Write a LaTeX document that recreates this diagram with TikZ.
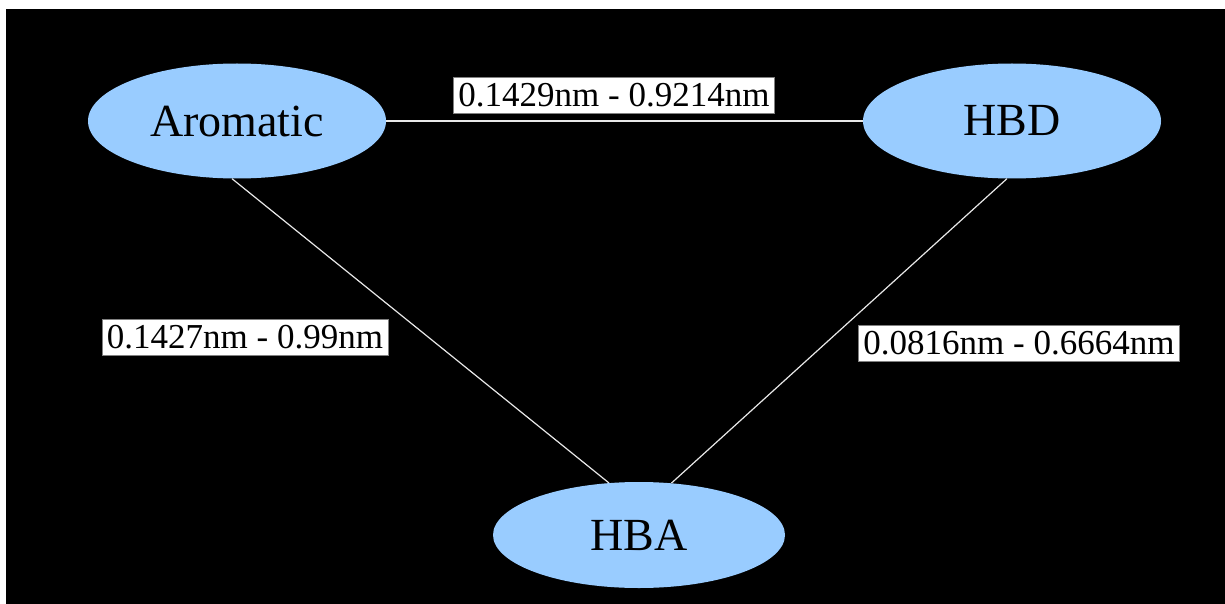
\documentclass[tikz,border=0pt]{standalone}
\usepackage{fontspec}
\setmainfont{Liberation Serif}
\usetikzlibrary{shapes.geometric}
\definecolor{nodeblue}{HTML}{99CCFF}
\definecolor{edgegray}{HTML}{E8E8E8}
\tikzset{
  blob/.style={ellipse, fill=nodeblue, draw=none, inner sep=0pt,
    minimum width=298pt, minimum height=115pt,
    font=\fontsize{46}{50}\selectfont, text=black},
  link/.style={draw=edgegray, line width=1.2pt},
  lbl/.style={fill=white, draw=gray, line width=0.8pt, inner xsep=5pt, inner ysep=0pt,
    minimum height=36pt, font=\fontsize{35}{38}\selectfont, text=black}
}
\begin{document}
\begin{tikzpicture}[x=1pt,y=-1pt]
\useasboundingbox (0,0) rectangle (1225,604);
\fill[black] (-2,-2) rectangle (1227,606);
\fill[white] (-2,-2) rectangle (1227,9);
\fill[white] (-2,-2) rectangle (6,606);
\node[blob] (arom) at (237,121) {Aromatic};
\node[blob] (hbd) at (1012,121) {HBD};
\node[blob, minimum width=292pt, minimum height=106pt] (hba) at (639,535) {HBA};
\draw[link] (arom.east) -- (hbd.west);
\draw[link] (arom.265) -- (hba.120);
\draw[link] (hbd.265) -- (hba.58);
\node[lbl] (l1) at (614,95) {0.1429nm - 0.9214nm};
\node[lbl] (l2) at (245,337) {0.1427nm - 0.99nm};
\node[lbl] (l3) at (1019,343) {0.0816nm - 0.6664nm};
\end{tikzpicture}
\end{document}
